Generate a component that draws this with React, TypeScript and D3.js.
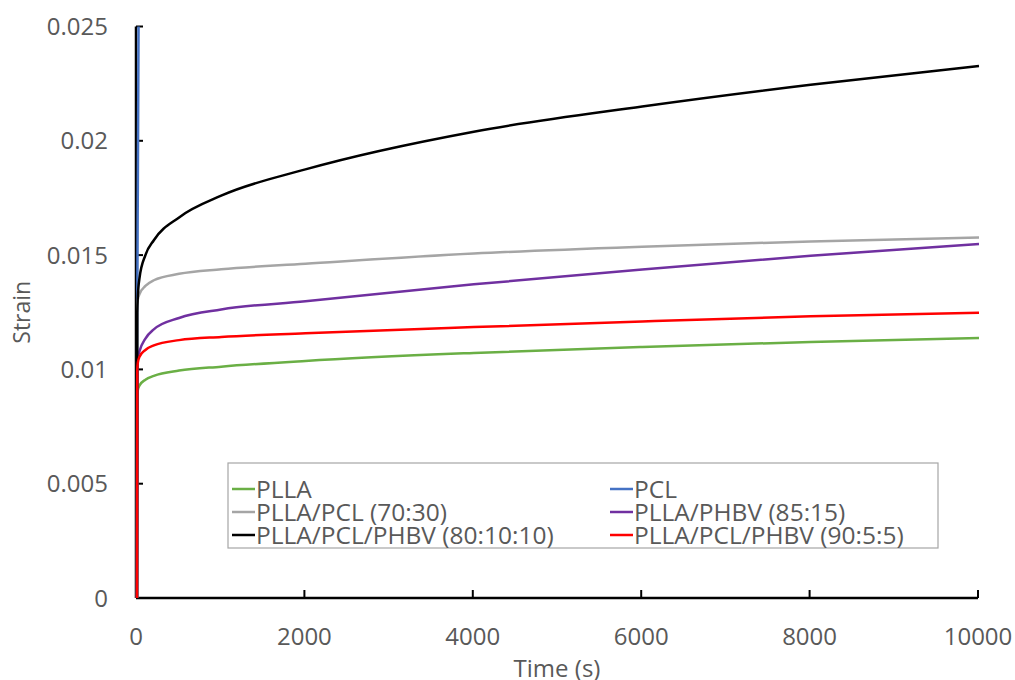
import React from "react";
import * as d3 from "d3";

const times = [0, 3, 10, 30, 100, 200, 500, 1000, 2000, 4000, 6000, 8000, 10000];
const pllaVals = [0, 0.0088, 0.0091, 0.0093, 0.00955, 0.00972, 0.00995, 0.01012, 0.01037, 0.01072, 0.01098, 0.0112, 0.01137];
const pcl7030Vals = [0, 0.0128, 0.01305, 0.0133, 0.01365, 0.0139, 0.01418, 0.01438, 0.01462, 0.01507, 0.01537, 0.0156, 0.01577];
const phbv8515Vals = [0, 0.0102, 0.0105, 0.0108, 0.01135, 0.01175, 0.01225, 0.01262, 0.01298, 0.01372, 0.01437, 0.01497, 0.01549];
const blend801010Vals = [0, 0.0125, 0.0132, 0.014, 0.015, 0.01565, 0.01665, 0.0176, 0.01875, 0.0204, 0.0215, 0.02245, 0.02327];
const blend9055Vals = [0, 0.01, 0.0103, 0.01055, 0.01085, 0.01105, 0.01128, 0.01142, 0.01158, 0.01185, 0.0121, 0.01232, 0.01248];
const pclTimes = [0, 3, 10, 22];
const pclVals = [0, 0.012, 0.018, 0.028];

const xTicks = [0, 2000, 4000, 6000, 8000, 10000];
const yTicks = [0, 0.005, 0.01, 0.015, 0.02, 0.025];
const yTickLabels = ["0", "0.005", "0.01", "0.015", "0.02", "0.025"];

const seriesNames = [
  "PLLA",
  "PCL",
  "PLLA/PCL (70:30)",
  "PLLA/PHBV (85:15)",
  "PLLA/PCL/PHBV (80:10:10)",
  "PLLA/PCL/PHBV (90:5:5)",
];
const seriesColors = ["#6AAF45", "#4472C4", "#A5A5A5", "#7030A0", "#000000", "#FF0000"];

export default function App() {
  const W = 1015, H = 680;
  const x = d3.scaleLinear().domain([0, 10000]).range([136, 978]);
  const y = d3.scaleLinear().domain([0, 0.025]).range([598, 26.5]);
  const font = "'Open Sans', 'DejaVu Sans', sans-serif";
  const txt = "#595959";

  const series = [
    { t: times, v: pllaVals },
    { t: pclTimes, v: pclVals },
    { t: times, v: pcl7030Vals },
    { t: times, v: phbv8515Vals },
    { t: times, v: blend801010Vals },
    { t: times, v: blend9055Vals },
  ];
  const line = d3
    .line<[number, number]>()
    .x((d) => x(d[0]) + 1)
    .y((d) => y(d[1]))
    .curve(d3.curveMonotoneX);

  const legendX = [232, 610];
  const legendY = [489, 512, 535];

  return (
    <svg width={W} height={H} style={{ position: "absolute", left: 0, top: 0, background: "#fff" }}>
      <defs>
        <clipPath id="plot">
          <rect x={130} y={y(0.025)} width={860} height={y(0) - y(0.025) + 2} />
        </clipPath>
      </defs>
      {/* axes */}
      <line x1={x(0)} x2={x(0)} y1={y(0)} y2={y(0.025)} stroke="#000" strokeWidth={2.5} />
      <line x1={x(0)} x2={x(10000)} y1={y(0)} y2={y(0)} stroke="#000" strokeWidth={2.5} />
      {yTicks.map((t, i) => (
        <g key={"y" + i}>
          <line x1={x(0)} x2={x(0) + 7} y1={y(t)} y2={y(t)} stroke="#000" strokeWidth={2} />
          <text x={108} y={y(t)} dy="0.36em" textAnchor="end" fontFamily={font} fontSize={24} fill={txt}>
            {yTickLabels[i]}
          </text>
        </g>
      ))}
      {xTicks.map((t, i) => (
        <g key={"x" + i}>
          <line x1={x(t)} x2={x(t)} y1={y(0)} y2={y(0) - 8} stroke="#000" strokeWidth={2} />
          <text x={x(t)} y={645} textAnchor="middle" fontFamily={font} fontSize={24} fill={txt}>
            {t}
          </text>
        </g>
      ))}
      <g clipPath="url(#plot)">
        {series.map((s, i) => (
          <path
            key={i}
            d={line(s.t.map((t, j) => [t, s.v[j]] as [number, number])) || ""}
            fill="none"
            stroke={seriesColors[i]}
            strokeWidth={2.5}
          />
        ))}
      </g>
      <text
        transform={`translate(30,${(y(0) + y(0.025)) / 2}) rotate(-90)`}
        textAnchor="middle"
        fontFamily={font}
        fontSize={23}
        fill={txt}
      >
        Strain
      </text>
      <text x={557} y={677} textAnchor="middle" fontFamily={font} fontSize={24} fill={txt}>
        Time (s)
      </text>
      {/* legend */}
      <rect x={228} y={463} width={710} height={85} fill="#fff" stroke="#A6A6A6" strokeWidth={1.2} />
      {seriesNames.map((n, i) => {
        const col = i % 2;
        const row = Math.floor(i / 2);
        const lx = legendX[col];
        const ly = legendY[row];
        return (
          <g key={"l" + i}>
            <line x1={lx} x2={lx + 23} y1={ly} y2={ly} stroke={seriesColors[i]} strokeWidth={2.5} />
            <text x={lx + 24} y={ly} dy="0.36em" fontFamily={font} fontSize={24.5} fill={txt}>
              {n}
            </text>
          </g>
        );
      })}
    </svg>
  );
}
